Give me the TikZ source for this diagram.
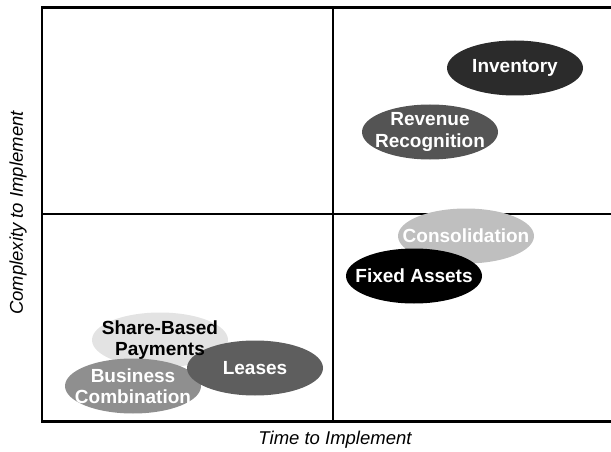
\documentclass[tikz,border=0pt]{standalone}
\usepackage{fontspec}
\setmainfont{Liberation Sans}
\usetikzlibrary{shapes.geometric}

\begin{document}
\begin{tikzpicture}[x=1pt,y=-1pt,
        blob/.style={ellipse,inner sep=0pt,minimum width=136pt,minimum height=55pt},
        lbl/.style={font=\fontsize{19}{21.5}\selectfont\bfseries,align=center,text=white},
        axis/.style={font=\fontsize{18.5}{20}\selectfont\itshape}]
    \useasboundingbox (0,0) rectangle (611,452);
    \clip (0,0) rectangle (611,452);
    \draw[line width=2.6pt] (42,7.5) rectangle (630,421.5);
    \draw[line width=2.6pt] (333,7.5) -- (333,421.5);
    \draw[line width=2.6pt] (42,214) -- (630,214);
    \node[axis] (xlab) at (335,440) {Time to Implement};
    \node[axis,rotate=90] (ylab) at (18,213) {Complexity to Implement};
    \node[blob,fill=black!25] (cons) at (466,236) {};
    \node[blob,fill=black] (fixed) at (414,276) {};
    \node[blob,fill=black!83] (inv) at (515,68) {};
    \node[blob,fill=black!67] (rev) at (430,132) {};
    \node[blob,fill=black!11] (share) at (160,340) {};
    \node[blob,fill=black!44] (bus) at (133,386) {};
    \node[blob,fill=black!63] (lease) at (255,368) {};
    \node[lbl] at (inv) {Inventory};
    \node[lbl] at (rev) {Revenue\\Recognition};
    \node[lbl] at (cons) {Consolidation};
    \node[lbl] at (fixed) {Fixed Assets};
    \node[lbl,text=black] at (share) {Share-Based\\Payments};
    \node[lbl] at (bus) {Business\\Combination};
    \node[lbl] at (lease) {Leases};
\end{tikzpicture}
\end{document}
